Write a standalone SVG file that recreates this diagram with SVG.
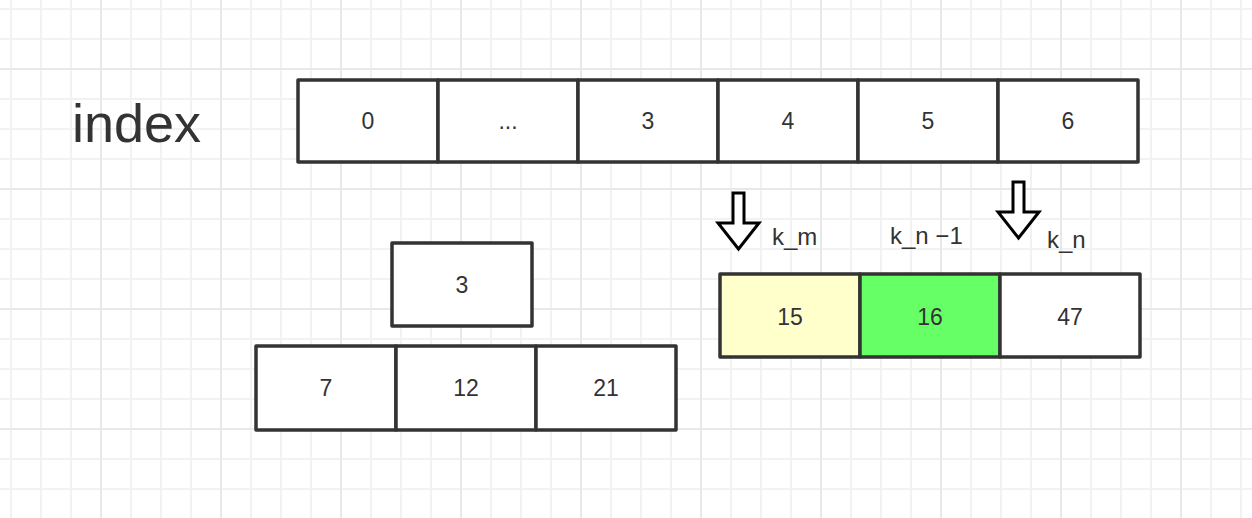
<svg xmlns="http://www.w3.org/2000/svg" width="1252" height="518" viewBox="0 0 1252 518">
<defs>
<pattern id="minor" patternUnits="userSpaceOnUse" x="10" y="8" width="30" height="30">
<path d="M1 0 V30 M0 1 H30" fill="none" stroke="#f2f2f2" stroke-width="2"/>
</pattern>
<pattern id="major" patternUnits="userSpaceOnUse" x="100" y="68" width="120" height="120">
<path d="M1 0 V120 M0 1 H120" fill="none" stroke="#e8e8e8" stroke-width="2"/>
</pattern>
</defs>
<style>
.cell{fill:#fff;stroke:#333;stroke-width:3.5;stroke-linejoin:round}
.t{font-family:"Liberation Sans",Arial,sans-serif;font-size:23px;fill:#333;text-anchor:middle}
.lbl{font-family:"Liberation Sans",Arial,sans-serif;font-size:24px;fill:#333}
.arrow{fill:#fff;stroke:#000;stroke-width:3;stroke-linejoin:miter}
</style>
<rect width="1252" height="518" fill="#fff"/>
<rect width="1252" height="518" fill="url(#minor)"/>
<rect width="1252" height="518" fill="url(#major)"/>

<g id="index-label"><text x="72" y="142" font-family="'Liberation Sans',Arial,sans-serif" font-size="54" fill="#333">index</text></g>

<g id="index-row">
<rect class="cell" x="298" y="80" width="140" height="82"/>
<rect class="cell" x="438" y="80" width="140" height="82"/>
<rect class="cell" x="578" y="80" width="140" height="82"/>
<rect class="cell" x="718" y="80" width="140" height="82"/>
<rect class="cell" x="858" y="80" width="140" height="82"/>
<rect class="cell" x="998" y="80" width="140" height="82"/>
<text class="t" x="368" y="129">0</text>
<text class="t" x="508" y="129">...</text>
<text class="t" x="648" y="129">3</text>
<text class="t" x="788" y="129">4</text>
<text class="t" x="928" y="129">5</text>
<text class="t" x="1068" y="129">6</text>
</g>

<g id="node-3">
<rect class="cell" x="392" y="243" width="140" height="83"/>
<text class="t" x="462" y="293">3</text>
</g>

<g id="node-row-left">
<rect class="cell" x="256" y="346" width="140" height="84"/>
<rect class="cell" x="396" y="346" width="140" height="84"/>
<rect class="cell" x="536" y="346" width="140" height="84"/>
<text class="t" x="326" y="396">7</text>
<text class="t" x="466" y="396">12</text>
<text class="t" x="606" y="396">21</text>
</g>

<g id="node-row-right">
<rect class="cell" x="720" y="274" width="140" height="83" style="fill:#ffffcc"/>
<rect class="cell" x="860" y="274" width="140" height="83" style="fill:#66ff66"/>
<rect class="cell" x="1000" y="274" width="140" height="83"/>
<text class="t" x="790" y="325">15</text>
<text class="t" x="930" y="325">16</text>
<text class="t" x="1070" y="325">47</text>
</g>

<g id="labels">
<text class="lbl" x="772" y="245">k_m</text>
<text class="lbl" x="890" y="244">k_n −1</text>
<text class="lbl" x="1047" y="248">k_n</text>
</g>

<g id="connectors">
<polygon class="arrow" points="733,193 744,193 744,223 759,223 738.5,249 718,223 733,223"/>
<polygon class="arrow" points="1013,182 1024,182 1024,212 1039,212 1018.5,238 998,212 1013,212"/>
</g>
</svg>
